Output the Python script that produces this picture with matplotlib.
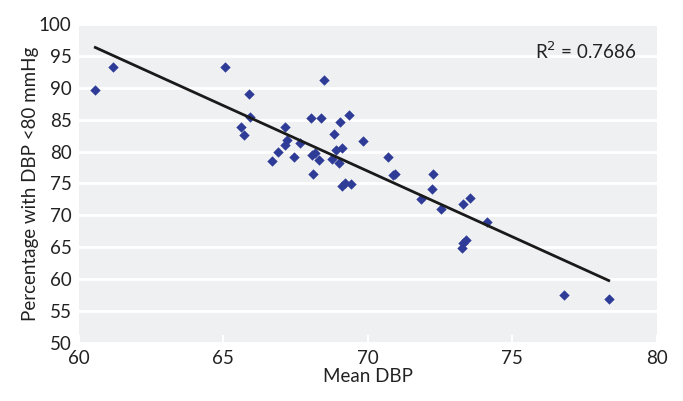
import numpy as np
import matplotlib
matplotlib.use("Agg")
from matplotlib import pyplot as plt

# mean diastolic BP vs share of patients below 80 mmHg
mean_dbp = [60.58, 61.18, 65.08, 68.50, 65.89, 65.94, 65.62, 65.73, 67.15, 67.20,
            67.15, 67.65, 66.89, 66.70, 67.45, 68.03, 68.39, 68.06, 68.18, 68.30,
            68.09, 69.05, 69.35, 68.82, 68.90, 69.11, 68.76, 69.02, 69.11, 69.20,
            69.41, 69.82, 70.71, 70.86, 70.95, 72.27, 72.21, 71.83, 72.53, 73.30,
            73.53, 74.12, 73.24, 73.30, 73.39, 76.77, 78.33]
pct_below80 = [89.6, 93.2, 93.3, 91.2, 89.0, 85.4, 83.9, 82.6, 83.8, 81.8,
               81.05, 81.3, 80.0, 78.5, 79.2, 85.3, 85.2, 79.4, 79.75, 78.65,
               76.5, 84.7, 85.7, 82.7, 80.3, 80.5, 78.9, 78.2, 74.6, 75.0,
               74.85, 81.7, 79.2, 76.35, 76.45, 76.45, 74.06, 72.5, 71.0, 71.76,
               72.76, 69.0, 64.8, 65.66, 66.08, 57.57, 56.9]
r2_label = "R$^2$ = 0.7686"

plt.rcParams['font.family'] = ['Lato', 'DejaVu Sans']
fs = 13.5

fig = plt.figure(figsize=(6.83, 4.01), dpi=100)
ax = fig.add_axes([0.115, 0.145, 0.847, 0.795])
ax.set_facecolor('#eff0f2')

ax.scatter(mean_dbp, pct_below80, marker='D', s=28, color='#2e3b97', zorder=3, linewidths=0)

# linear trend line over the data range
k, b = np.polyfit(mean_dbp, pct_below80, 1)
xs = np.array([min(mean_dbp), max(mean_dbp)])
ax.plot(xs, k * xs + b, color='#1a1a1a', lw=2, zorder=4)

ax.set_xlim(60, 80)
ax.set_ylim(50, 100)
ax.set_xticks(np.arange(60, 81, 5))
ax.set_yticks(np.arange(50, 101, 5))
ax.grid(axis='y', color='white', lw=2)
ax.set_axisbelow(True)
for s in ax.spines.values():
    s.set_visible(False)
ax.tick_params(axis='x', direction='in', color='white', width=1.5, length=6, labelsize=fs, pad=5)
ax.tick_params(axis='y', length=0, labelsize=fs, pad=5)
for lab in ax.get_xticklabels() + ax.get_yticklabels():
    lab.set_color('#222222')

ax.set_xlabel('Mean DBP', fontsize=fs, color='#222222', labelpad=1)
ax.set_ylabel('Percentage with DBP <80 mmHg', fontsize=fs, color='#222222', labelpad=0)
ax.text(0.965, 0.915, r2_label, transform=ax.transAxes, ha='right', va='center',
        fontsize=fs, color='#222222')

fig.savefig('out.png', dpi=100)
